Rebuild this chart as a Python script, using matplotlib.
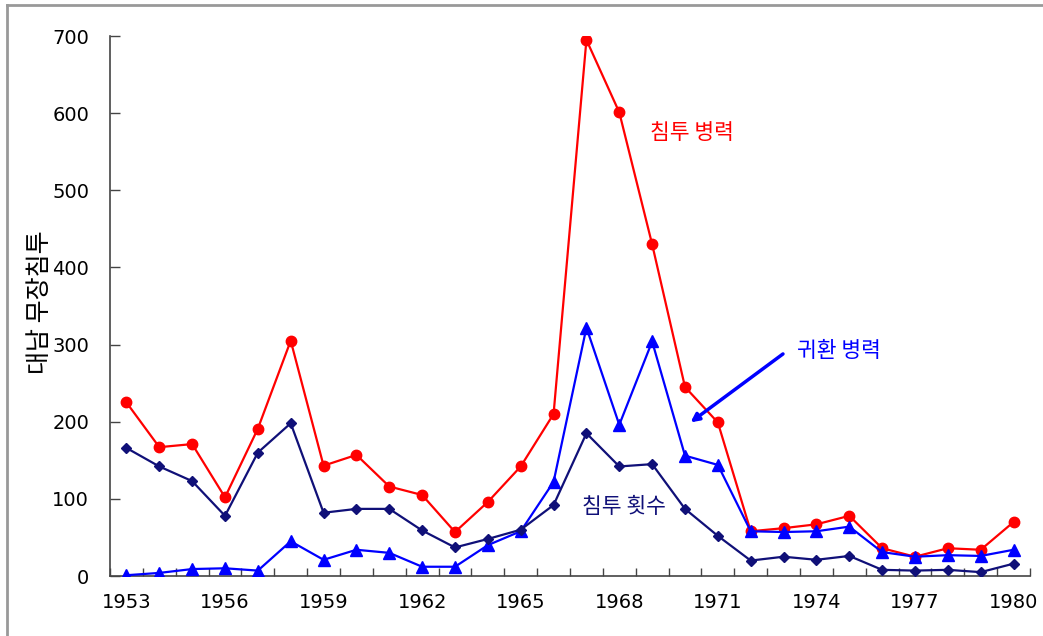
import matplotlib
matplotlib.use("Agg")
import matplotlib.pyplot as plt
import numpy as np
from matplotlib.lines import Line2D

years = list(range(1953, 1981))
infiltration_troops = [225, 167, 171, 102, 191, 305, 143, 157, 116, 105, 57, 96, 142, 210,
                       695, 601, 430, 245, 199, 58, 62, 67, 78, 36, 25, 36, 34, 70]
returned_troops = [1, 4, 9, 10, 7, 45, 21, 34, 30, 12, 12, 40, 58, 122,
                   322, 196, 304, 156, 144, 58, 57, 58, 64, 31, 25, 27, 26, 34]
infiltration_count = [166, 142, 123, 78, 160, 198, 82, 87, 87, 59, 37, 48, 60, 92,
                      185, 142, 145, 87, 52, 20, 25, 21, 26, 8, 7, 8, 5, 16]
xtick_labels = ["1953", "1956", "1959", "1962", "1965", "1968", "1971", "1974", "1977", "1980"]
ylabel = "대남 무장침투"

plt.rcParams['font.family'] = ['DejaVu Sans']
KR = ['Noto Sans CJK KR', 'DejaVu Sans']

fig = plt.figure(figsize=(10.43, 6.36), dpi=100)
ax = fig.add_axes([110/1043, 1-576/636, (1030-110)/1043, (576-36)/636])

red = '#ff0000'
blue = '#0000ff'
navy = '#101078'

ax.plot(years, infiltration_troops, color=red, lw=1.6, marker='o', ms=7.5, zorder=3)
ax.plot(years, returned_troops, color=blue, lw=1.6, marker='^', ms=8, zorder=4)
ax.plot(years, infiltration_count, color=navy, lw=1.6, marker='D', ms=5, zorder=5)

ax.set_xlim(1952.5, 1980.5)
ax.set_ylim(0, 700)
ax.set_yticks(np.arange(0, 701, 100))
ax.set_xticks([int(l) for l in xtick_labels])
ax.set_xticklabels(xtick_labels)
ax.set_xticks(np.arange(1952.5, 1981, 1), minor=True)

for s in ['top', 'right']:
    ax.spines[s].set_visible(False)
for s in ['left', 'bottom']:
    ax.spines[s].set_color('#444444')
    ax.spines[s].set_linewidth(1.2)

ax.tick_params(axis='y', direction='in', length=7, width=1, color='#444444', pad=15, labelsize=14)
ax.tick_params(axis='x', which='major', length=0, pad=12, labelsize=14)
ax.tick_params(axis='x', which='minor', direction='in', length=6, width=1, color='#444444')

ax.text(1970.2, 574, "침투 병력", color=red, fontsize=15.5, family=KR, ha='center', va='center')
ax.text(1974.7, 292, "귀환 병력", color=blue, fontsize=15.5, family=KR, ha='center', va='center')
ax.text(1968.15, 89, "침투 횟수", color=navy, fontsize=15.5, family=KR, ha='center', va='center')

ax.annotate("", xy=(1970.1, 197), xytext=(1973.05, 290),
            arrowprops=dict(arrowstyle='-|>', color=blue, lw=2.5, mutation_scale=12))

fig.text(40/1043, 1-302/636, ylabel, rotation=90, fontsize=18, family=KR, ha='center', va='center')

fig.add_artist(Line2D([7/1043, 7/1043], [0, 1-5/636], color='#999999', lw=2, transform=fig.transFigure))
fig.add_artist(Line2D([7/1043, 1], [1-5/636, 1-5/636], color='#999999', lw=2, transform=fig.transFigure))

fig.savefig("out.png", dpi=100)
